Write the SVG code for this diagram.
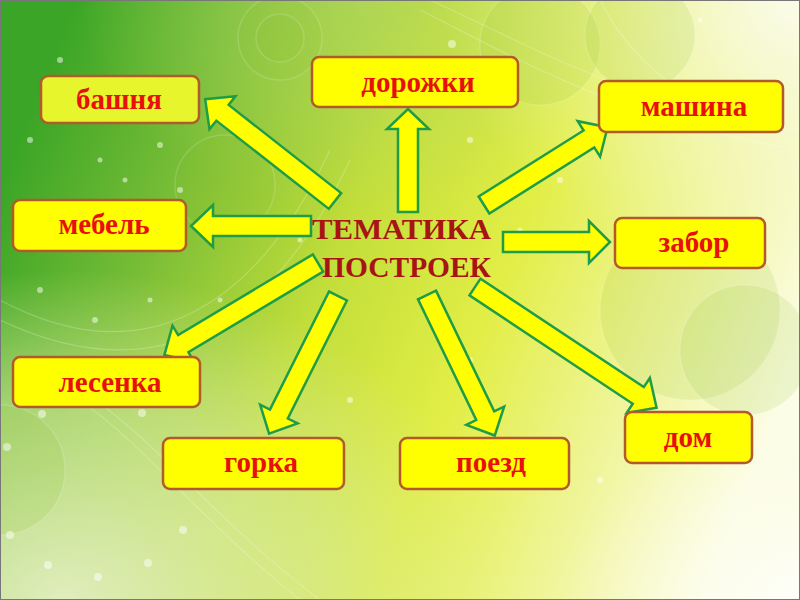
<svg xmlns="http://www.w3.org/2000/svg" width="800" height="600" viewBox="0 0 800 600">
<defs>
<linearGradient id="bg" x1="0" y1="0.3" x2="1" y2="0.6">
<stop offset="0" stop-color="#3aa526"/>
<stop offset="0.2" stop-color="#78bd36"/>
<stop offset="0.42" stop-color="#c2de3a"/>
<stop offset="0.62" stop-color="#e2ee46"/>
<stop offset="0.82" stop-color="#f0f59c"/>
<stop offset="1" stop-color="#fcfde6"/>
</linearGradient>
<radialGradient id="glowB" cx="0.08" cy="1" r="0.55">
<stop offset="0" stop-color="#e4f0c4" stop-opacity="0.95"/>
<stop offset="0.6" stop-color="#d8eaa0" stop-opacity="0.6"/>
<stop offset="1" stop-color="#d8eaa0" stop-opacity="0"/>
</radialGradient>
<radialGradient id="glowTR" cx="1" cy="0" r="0.45">
<stop offset="0" stop-color="#fbfcee" stop-opacity="0.95"/>
<stop offset="1" stop-color="#f4f8cc" stop-opacity="0"/>
</radialGradient>
<radialGradient id="glowBR" cx="1" cy="1" r="0.3">
<stop offset="0" stop-color="#ffffff" stop-opacity="0.8"/>
<stop offset="1" stop-color="#fafbe0" stop-opacity="0"/>
</radialGradient>
<radialGradient id="glowT" cx="0.45" cy="0" r="0.35">
<stop offset="0" stop-color="#b4d868" stop-opacity="0.6"/>
<stop offset="1" stop-color="#b4d868" stop-opacity="0"/>
</radialGradient>
<style>
.box{fill:#ffff00;stroke:#b25a2c;stroke-width:2.5}
.lbl{font-family:"Liberation Serif","Times New Roman",serif;font-weight:bold;font-size:29px;fill:#e8100c;text-anchor:middle}
.ttl{font-family:"Liberation Serif","Times New Roman",serif;font-weight:bold;font-size:30px;fill:#a81414}
.arr{fill:#ffff00;stroke:#1f9c48;stroke-width:2.5;stroke-linejoin:miter}
.bub{fill:#8cc030;fill-opacity:0.14;stroke:#ffffff;stroke-opacity:0.15;stroke-width:1.5}
.dot{fill:#ffffff;fill-opacity:0.5}
.ln{fill:none;stroke:#ffffff;stroke-opacity:0.22;stroke-width:1.2}
</style>
</defs>
<rect width="800" height="600" fill="url(#bg)"/>
<rect width="800" height="600" fill="url(#glowT)"/>
<rect width="800" height="600" fill="url(#glowB)"/>
<rect width="800" height="600" fill="url(#glowTR)"/>
<rect width="800" height="600" fill="url(#glowBR)"/>
<g id="decor">
<circle class="bub" cx="540" cy="45" r="60"/>
<circle class="bub" cx="280" cy="38" r="42"/>
<circle class="bub" cx="280" cy="38" r="24"/>
<circle class="bub" cx="225" cy="185" r="50"/>
<circle class="bub" cx="690" cy="310" r="90"/>
<circle class="bub" cx="745" cy="350" r="65"/>
<circle class="bub" cx="0" cy="470" r="65"/>
<circle class="bub" cx="640" cy="35" r="55"/>
<path class="ln" d="M0 300 C150 380 260 300 330 150"/>
<path class="ln" d="M0 320 C170 400 280 310 350 160"/>
<path class="ln" d="M420 10 C520 60 620 120 800 150"/>
<path class="ln" d="M430 0 C540 50 640 110 800 130"/>
<path class="ln" d="M80 400 C150 450 200 520 300 600"/>
<path class="ln" d="M95 400 C165 450 215 520 320 600"/>
<path class="ln" d="M600 0 C620 40 650 70 680 90"/>
<circle class="dot" cx="60" cy="60" r="3"/>
<circle class="dot" cx="85" cy="110" r="2.5"/>
<circle class="dot" cx="30" cy="140" r="3"/>
<circle class="dot" cx="100" cy="160" r="2.5"/>
<circle class="dot" cx="160" cy="145" r="3"/>
<circle class="dot" cx="180" cy="190" r="3"/>
<circle class="dot" cx="125" cy="180" r="2.5"/>
<circle class="dot" cx="40" cy="290" r="3"/>
<circle class="dot" cx="150" cy="300" r="2.5"/>
<circle class="dot" cx="95" cy="320" r="3"/>
<circle class="dot" cx="220" cy="300" r="2.5"/>
<circle class="dot" cx="42" cy="414" r="4"/>
<circle class="dot" cx="7" cy="447" r="4"/>
<circle class="dot" cx="10" cy="535" r="4"/>
<circle class="dot" cx="48" cy="565" r="4"/>
<circle class="dot" cx="98" cy="577" r="4"/>
<circle class="dot" cx="148" cy="563" r="4"/>
<circle class="dot" cx="183" cy="530" r="4"/>
<circle class="dot" cx="142" cy="413" r="4"/>
<circle class="dot" cx="300" cy="240" r="2.5"/>
<circle class="dot" cx="470" cy="140" r="3"/>
<circle class="dot" cx="560" cy="180" r="3"/>
<circle class="dot" cx="520" cy="230" r="2.5"/>
<circle class="dot" cx="470" cy="360" r="3"/>
<circle class="dot" cx="560" cy="350" r="2.5"/>
<circle class="dot" cx="350" cy="400" r="3"/>
<circle class="dot" cx="600" cy="480" r="3"/>
<circle class="dot" cx="452" cy="44" r="4"/>
<circle class="dot" cx="700" cy="20" r="2.5"/>
</g>
<g id="connectors">
<polygon class="arr" transform="translate(335,201) rotate(218.1)" points="0,-10 143,-10 143,-21 165,0 143,21 143,10 0,10"/>
<polygon class="arr" transform="translate(408,212) rotate(-90)" points="0,-10 83,-10 83,-21 103,0 83,21 83,10 0,10"/>
<polygon class="arr" transform="translate(484,205) rotate(-32.2)" points="0,-10 124,-10 124,-21 146,0 124,21 124,10 0,10"/>
<polygon class="arr" transform="translate(311,226) rotate(180)" points="0,-10 98,-10 98,-21 120,0 98,21 98,10 0,10"/>
<polygon class="arr" transform="translate(503,242) rotate(0)" points="0,-10 86,-10 86,-21 107,0 86,21 86,10 0,10"/>
<polygon class="arr" transform="translate(318,263) rotate(149.1)" points="0,-10 157,-10 157,-21 179,0 157,21 157,10 0,10"/>
<polygon class="arr" transform="translate(338,296) rotate(116.6)" points="0,-10 132,-10 132,-21 154,0 132,21 132,10 0,10"/>
<polygon class="arr" transform="translate(427,295) rotate(64.25)" points="0,-10 134,-10 134,-21 156,0 134,21 134,10 0,10"/>
<polygon class="arr" transform="translate(475,287) rotate(33.6)" points="0,-10 196,-10 196,-21 218,0 196,21 196,10 0,10"/>
</g>
<g id="center">
<text class="ttl" x="312" y="239" textLength="179" lengthAdjust="spacingAndGlyphs">ТЕМАТИКА</text>
<text class="ttl" x="322" y="277" textLength="169" lengthAdjust="spacingAndGlyphs">ПОСТРОЕК</text>
</g>
<g id="bashnya">
<rect class="box" x="41" y="76" width="158" height="47" rx="7" style="fill:#e6f52c"/>
<text class="lbl" x="119" y="109">башня</text>
</g>
<g id="dorozhki">
<rect class="box" x="312" y="57" width="206" height="50" rx="7"/>
<text class="lbl" x="418" y="92">дорожки</text>
</g>
<g id="mashina">
<rect class="box" x="599" y="81" width="184" height="51" rx="7"/>
<text class="lbl" x="694" y="116">машина</text>
</g>
<g id="mebel">
<rect class="box" x="13" y="200" width="173" height="51" rx="7"/>
<text class="lbl" x="104" y="234">мебель</text>
</g>
<g id="zabor">
<rect class="box" x="615" y="218" width="150" height="50" rx="7"/>
<text class="lbl" x="694" y="252">забор</text>
</g>
<g id="lesenka">
<rect class="box" x="13" y="357" width="187" height="50" rx="7"/>
<text class="lbl" x="110" y="392">лесенка</text>
</g>
<g id="gorka">
<rect class="box" x="163" y="438" width="181" height="51" rx="7"/>
<text class="lbl" x="261" y="472">горка</text>
</g>
<g id="poezd">
<rect class="box" x="400" y="438" width="169" height="51" rx="7"/>
<text class="lbl" x="491" y="472">поезд</text>
</g>
<g id="dom">
<rect class="box" x="625" y="412" width="127" height="51" rx="7"/>
<text class="lbl" x="688" y="447">дом</text>
</g>
<rect x="0.5" y="0.5" width="799" height="599" fill="none" stroke="#777" stroke-width="1"/>
</svg>
